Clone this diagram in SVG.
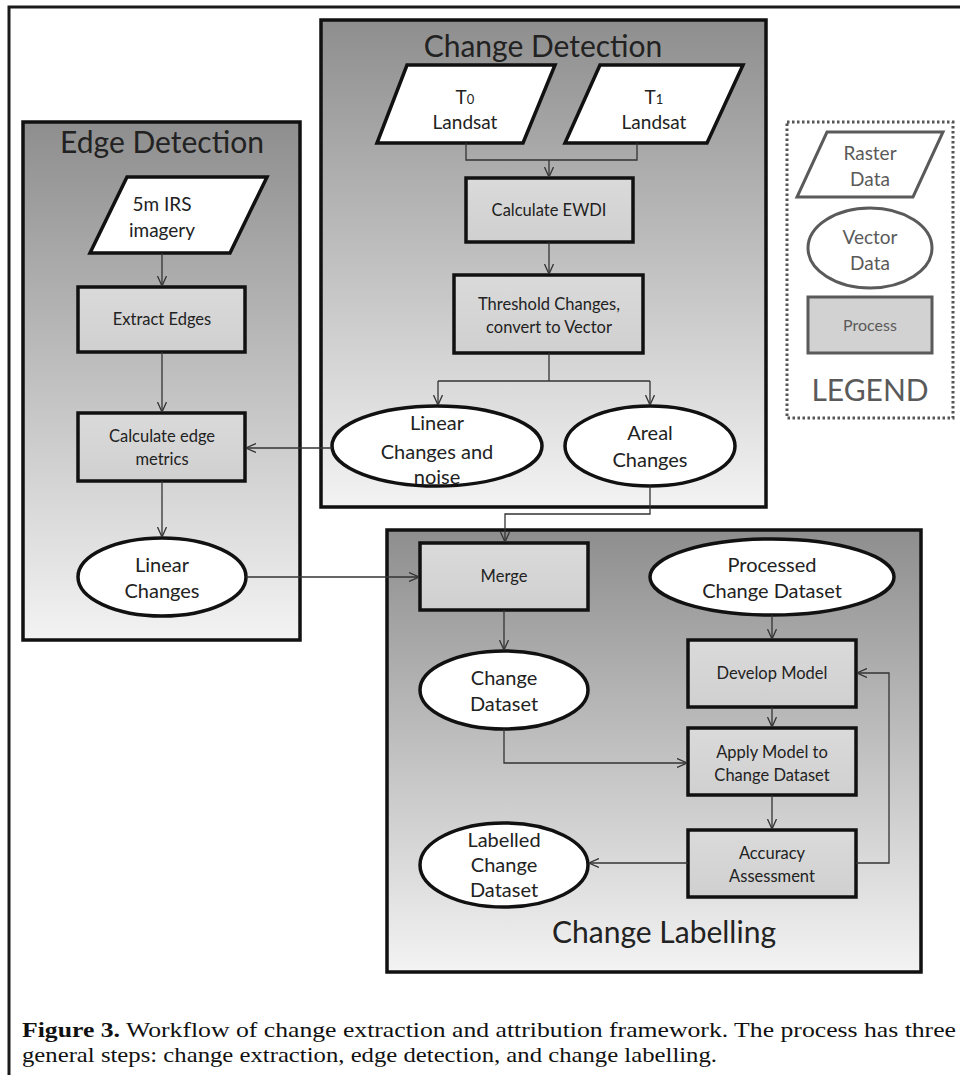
<svg xmlns="http://www.w3.org/2000/svg" width="960" height="1075" viewBox="0 0 960 1075">
<defs>
<linearGradient id="pg" x1="0" y1="0" x2="0" y2="1">
<stop offset="0" stop-color="#8e8e8e"/>
<stop offset="1" stop-color="#f3f3f3"/>
</linearGradient>
<linearGradient id="bx" x1="0" y1="0" x2="0" y2="1">
<stop offset="0" stop-color="#dadada"/>
<stop offset="1" stop-color="#d0d0d0"/>
</linearGradient>
<marker id="arr" viewBox="0 0 10 10" refX="10" refY="5" markerWidth="10" markerHeight="10" markerUnits="userSpaceOnUse" orient="auto">
<path d="M0,0.5 L10,5 L0,9.5" fill="none" stroke="#333" stroke-width="1.3"/>
</marker>
<style>
.panel{fill:url(#pg);stroke:#111;stroke-width:3.5}
.title{font-family:Lato,"Liberation Sans",sans-serif;font-size:30px;fill:#222;text-anchor:middle}
.proc{fill:url(#bx);stroke:#111;stroke-width:3.5}
.data{fill:#fff;stroke:#111;stroke-width:3.5}
.t{font-family:Lato,"Liberation Sans",sans-serif;fill:#222;text-anchor:middle}
.ts{font-size:16.5px}
.tm{font-size:19px}
.tl{font-size:20px}
.lg{fill:#fff;stroke:#5a5a5a;stroke-width:3}
.lgp{fill:#d2d2d2;stroke:#5a5a5a;stroke-width:3}
.lt{font-family:Lato,"Liberation Sans",sans-serif;fill:#5a5a5a;text-anchor:middle}
.conn{fill:none;stroke:#333;stroke-width:1.3}
.cap{font-family:"Liberation Serif",serif;font-size:21px;fill:#111}
</style>
</defs>
<rect x="0" y="0" width="960" height="1075" fill="#fff"/>
<path d="M9,1075 V7 H960" fill="none" stroke="#1a1a1a" stroke-width="3"/>

<g id="panel-change-detection">
<rect class="panel" x="321" y="20" width="445" height="487"/>
<text class="title" x="543" y="57">Change Detection</text>
</g>
<g id="panel-edge-detection">
<rect class="panel" x="23" y="122" width="277" height="518"/>
<text class="title" x="162" y="153">Edge Detection</text>
</g>
<g id="panel-change-labelling">
<rect class="panel" x="387" y="530" width="534" height="442"/>
<text class="title" x="664" y="943">Change Labelling</text>
</g>

<g id="legend">
<rect x="787" y="122" width="166" height="296" fill="none" stroke="#555" stroke-width="3" stroke-dasharray="2.5 2.5"/>
<polygon class="lg" points="827,132 943,132 913,197 797,197"/>
<text class="lt" font-size="19" x="870" y="160">Raster</text>
<text class="lt" font-size="19" x="870" y="186">Data</text>
<ellipse class="lg" cx="870" cy="248" rx="62" ry="40"/>
<text class="lt" font-size="19" x="870" y="244">Vector</text>
<text class="lt" font-size="19" x="870" y="270">Data</text>
<rect class="lgp" x="808" y="297" width="124" height="56"/>
<text class="lt" font-size="16" x="870" y="331">Process</text>
<text class="lt" font-size="30" x="870" y="401">LEGEND</text>
</g>

<g id="t0-landsat">
<polygon class="data" points="407,65 555,65 523,143 377,143"/>
<text class="t tm" x="465" y="104">T<tspan font-size="13">0</tspan></text>
<text class="t tm" x="465" y="129">Landsat</text>
</g>
<g id="t1-landsat">
<polygon class="data" points="600,65 743,65 707,143 565,143"/>
<text class="t tm" x="654" y="104">T<tspan font-size="13">1</tspan></text>
<text class="t tm" x="654" y="129">Landsat</text>
</g>
<g id="calculate-ewdi">
<rect class="proc" x="466" y="178" width="167" height="64"/>
<text class="t ts" x="549" y="216">Calculate EWDI</text>
</g>
<g id="threshold">
<rect class="proc" x="454" y="275" width="189" height="78"/>
<text class="t ts" x="549" y="310">Threshold Changes,</text>
<text class="t ts" x="549" y="333">convert to Vector</text>
</g>
<g id="linear-changes-noise">
<ellipse class="data" cx="437" cy="446" rx="105" ry="40"/>
<text class="t tl" x="437" y="430">Linear</text>
<text class="t tl" x="437" y="459">Changes and</text>
<text class="t tl" x="437" y="484">noise</text>
</g>
<g id="areal-changes">
<ellipse class="data" cx="650" cy="446" rx="85" ry="40"/>
<text class="t tl" x="650" y="440">Areal</text>
<text class="t tl" x="650" y="467">Changes</text>
</g>

<g id="irs-imagery">
<polygon class="data" points="127,177 267,177 230,253 90,253"/>
<text class="t tm" x="162" y="211">5m IRS</text>
<text class="t tm" x="162" y="237">imagery</text>
</g>
<g id="extract-edges">
<rect class="proc" x="78" y="287" width="167" height="65"/>
<text class="t ts" x="162" y="325">Extract Edges</text>
</g>
<g id="calc-edge-metrics">
<rect class="proc" x="78" y="413" width="167" height="68"/>
<text class="t ts" x="162" y="442">Calculate edge</text>
<text class="t ts" x="162" y="465">metrics</text>
</g>
<g id="linear-changes">
<ellipse class="data" cx="162" cy="577" rx="84" ry="39"/>
<text class="t tl" x="162" y="572">Linear</text>
<text class="t tl" x="162" y="598">Changes</text>
</g>

<g id="merge">
<rect class="proc" x="420" y="543" width="168" height="67"/>
<text class="t ts" x="504" y="582">Merge</text>
</g>
<g id="change-dataset">
<ellipse class="data" cx="504" cy="690" rx="84" ry="39"/>
<text class="t tl" x="504" y="685">Change</text>
<text class="t tl" x="504" y="711">Dataset</text>
</g>
<g id="processed-change-dataset">
<ellipse class="data" cx="772" cy="577" rx="122" ry="38"/>
<text class="t tl" x="772" y="572">Processed</text>
<text class="t tl" x="772" y="598">Change Dataset</text>
</g>
<g id="develop-model">
<rect class="proc" x="688" y="640" width="168" height="67"/>
<text class="t ts" x="772" y="679">Develop Model</text>
</g>
<g id="apply-model">
<rect class="proc" x="688" y="728" width="168" height="67"/>
<text class="t ts" x="772" y="758">Apply Model to</text>
<text class="t ts" x="772" y="781">Change Dataset</text>
</g>
<g id="accuracy-assessment">
<rect class="proc" x="688" y="830" width="168" height="67"/>
<text class="t ts" x="772" y="859">Accuracy</text>
<text class="t ts" x="772" y="882">Assessment</text>
</g>
<g id="labelled-change-dataset">
<ellipse class="data" cx="504" cy="865" rx="84" ry="42"/>
<text class="t tl" x="504" y="847">Labelled</text>
<text class="t tl" x="504" y="872">Change</text>
<text class="t tl" x="504" y="897">Dataset</text>
</g>

<g id="connectors">
<path class="conn" d="M466,143 V160 H637 V143"/>
<path class="conn" d="M549,160 V177" marker-end="url(#arr)"/>
<path class="conn" d="M549,242 V274" marker-end="url(#arr)"/>
<path class="conn" d="M549,353 V381 M438,381 H650"/>
<path class="conn" d="M438,381 V405" marker-end="url(#arr)"/>
<path class="conn" d="M650,381 V405" marker-end="url(#arr)"/>
<path class="conn" d="M332,448 H246" marker-end="url(#arr)"/>
<path class="conn" d="M650,486 V514 H505 V542" marker-end="url(#arr)"/>
<path class="conn" d="M162,253 V286" marker-end="url(#arr)"/>
<path class="conn" d="M162,352 V412" marker-end="url(#arr)"/>
<path class="conn" d="M162,481 V537" marker-end="url(#arr)"/>
<path class="conn" d="M246,577 H419" marker-end="url(#arr)"/>
<path class="conn" d="M504,610 V650" marker-end="url(#arr)"/>
<path class="conn" d="M504,729 V763 H687" marker-end="url(#arr)"/>
<path class="conn" d="M772,615 V639" marker-end="url(#arr)"/>
<path class="conn" d="M772,707 V727" marker-end="url(#arr)"/>
<path class="conn" d="M772,795 V829" marker-end="url(#arr)"/>
<path class="conn" d="M856,863 H889 V673 H857" marker-end="url(#arr)"/>
<path class="conn" d="M688,863 H589" marker-end="url(#arr)"/>
</g>

<g id="caption">
<text class="cap" x="22" y="1037" textLength="934" lengthAdjust="spacingAndGlyphs"><tspan font-weight="bold">Figure 3.</tspan> Workflow of change extraction and attribution framework. The process has three</text>
<text class="cap" x="22" y="1062" textLength="695" lengthAdjust="spacingAndGlyphs">general steps: change extraction, edge detection, and change labelling.</text>
</g>
</svg>
